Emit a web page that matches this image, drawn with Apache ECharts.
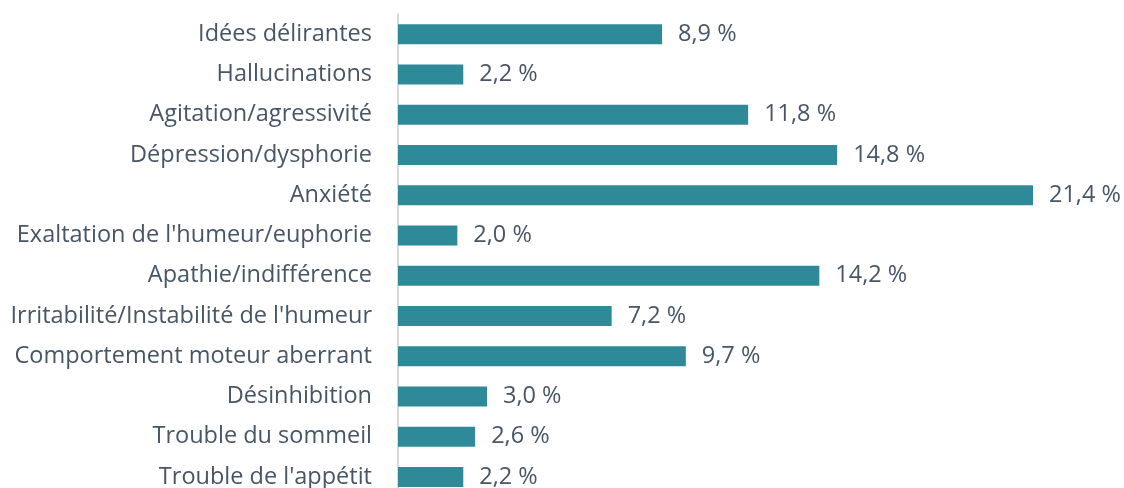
<!DOCTYPE html>
<html><head><meta charset="utf-8">
<script src="https://cdn.jsdelivr.net/npm/echarts@6/dist/echarts.min.js"></script>
<style>html,body{margin:0;padding:0;background:#fff;overflow:hidden}#c{width:1124px;height:497px}</style>
</head><body><div id="c"></div>
<script>
const categories = ["Idées délirantes","Hallucinations","Agitation/agressivité","Dépression/dysphorie","Anxiété","Exaltation de l'humeur/euphorie","Apathie/indifférence","Irritabilité/Instabilité de l'humeur","Comportement moteur aberrant","Désinhibition","Trouble du sommeil","Trouble de l'appétit"];
const values = [8.9,2.2,11.8,14.8,21.4,2.0,14.2,7.2,9.7,3.0,2.6,2.2];

const chart = echarts.init(document.getElementById('c'), null, {renderer:'canvas'});
const font = 'Open Sans';
chart.setOption({
  animation:false,
  grid:{left:398, top:14, right:91, bottom:0, containLabel:false},
  xAxis:{type:'value', min:0, max:21.4, show:false},
  yAxis:{type:'category', data:categories, inverse:true,
    axisLine:{show:true, lineStyle:{color:'#D9D9D9', width:2}},
    axisTick:{show:false},
    axisLabel:{color:'#475666', fontFamily:font, fontSize:23.5, margin:26}},
  series:[{type:'bar', data:values, barWidth:20,
    itemStyle:{color:'#2E8A99'},
    label:{show:true, position:'right', distance:16, color:'#475666', fontFamily:font, fontSize:23.5,
      formatter:p=>p.value.toFixed(1).replace('.',',')+' %'}}]
});
</script></body></html>
